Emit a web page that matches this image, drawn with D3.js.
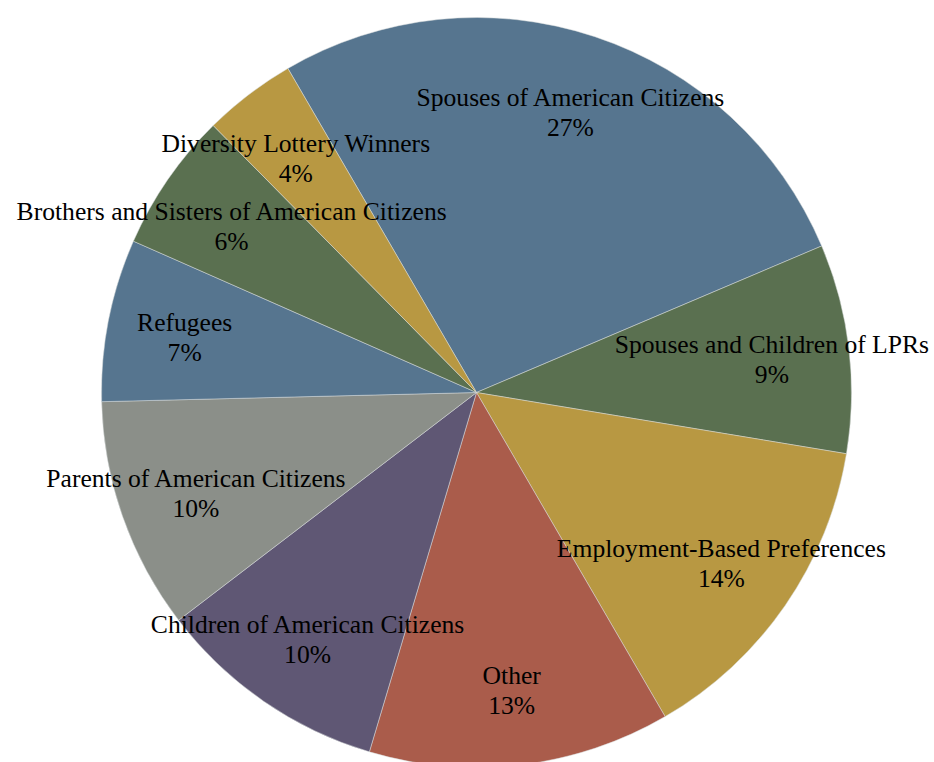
<!DOCTYPE html>
<html>
<head>
<meta charset="utf-8">
<script src="https://cdn.jsdelivr.net/npm/d3@7/dist/d3.min.js"></script>
<style>
  html, body { margin: 0; padding: 0; background: #fff; }
  svg { display: block; }
</style>
</head>
<body>
<svg id="chart" width="934" height="762"></svg>
<script>
// Categories of new lawful permanent residents, clockwise from the upper slice
const categories = [
  "Spouses of American Citizens",
  "Spouses and Children of LPRs",
  "Employment-Based Preferences",
  "Other",
  "Children of American Citizens",
  "Parents of American Citizens",
  "Refugees",
  "Brothers and Sisters of American Citizens",
  "Diversity Lottery Winners"
];
const shares = [27, 9, 14, 13, 10, 10, 7, 6, 4];
const sliceColors = [
  "#56758f", "#5a7050", "#b89842", "#aa5c4b", "#5f5774",
  "#8b8f89", "#56758f", "#5a7050", "#b89842"
];

const width = 934, height = 762;
const cx = 476.5, cy = 392.5, radius = 375;
const labelRadius = 297.5;

const svg = d3.select("#chart");
const g = svg.append("g").attr("transform", `translate(${cx},${cy})`);

const data = categories.map((c, i) => ({ name: c, value: shares[i], color: sliceColors[i] }));

const startDeg = -30.2;
const pie = d3.pie()
  .sort(null)
  .value(d => d.value)
  .startAngle(startDeg * Math.PI / 180)
  .endAngle((startDeg + 360) * Math.PI / 180);

const arc = d3.arc().innerRadius(0).outerRadius(radius);
const labelArc = d3.arc().innerRadius(labelRadius).outerRadius(labelRadius);

const arcs = pie(data);

g.selectAll("path.slice")
  .data(arcs)
  .join("path")
  .attr("class", "slice")
  .attr("d", arc)
  .attr("fill", d => d.data.color)
  .attr("stroke", "#d8dcdc")
  .attr("stroke-width", 0.5);

const total = d3.sum(shares);
const labels = g.selectAll("text.label")
  .data(arcs)
  .join("text")
  .attr("class", "label")
  .attr("transform", d => `translate(${labelArc.centroid(d)})`)
  .attr("text-anchor", "middle")
  .style("font-family", "'Liberation Serif', 'Times New Roman', serif")
  .style("font-size", "25.6px")
  .attr("fill", "#000");

labels.append("tspan")
  .attr("x", 0)
  .attr("y", -4)
  .text(d => d.data.name);

labels.append("tspan")
  .attr("x", 0)
  .attr("y", 26)
  .text(d => Math.round(d.data.value / total * 100) + "%");
</script>
</body>
</html>
